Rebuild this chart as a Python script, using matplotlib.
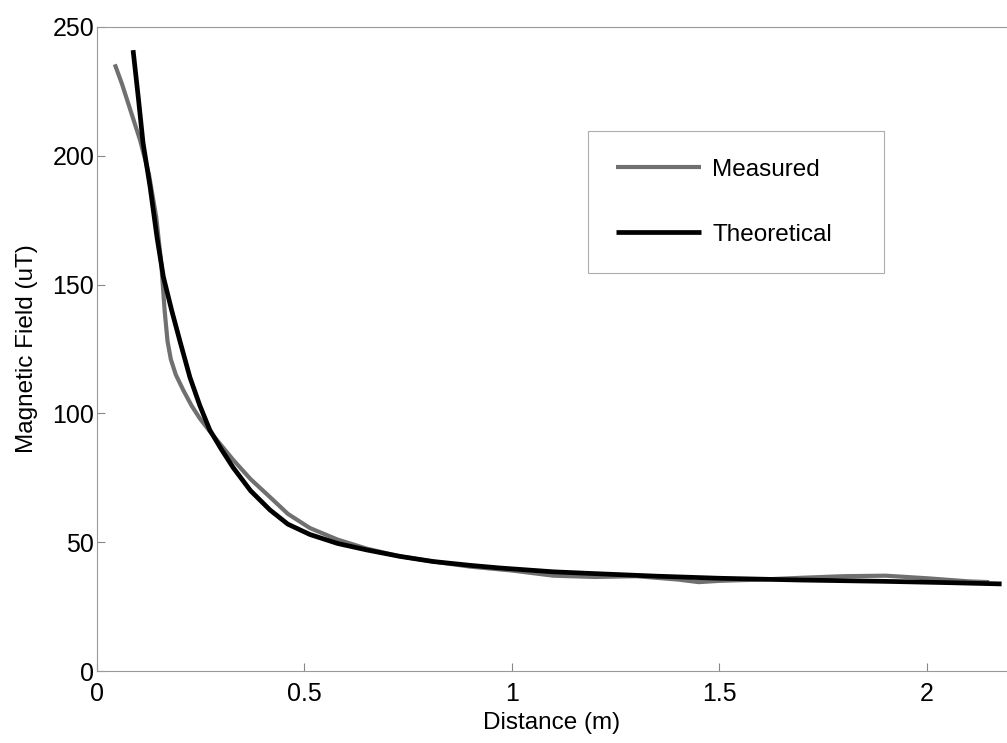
import matplotlib
matplotlib.use("Agg")
import matplotlib.pyplot as plt

plt.rcParams['font.family'] = ['Liberation Sans', 'DejaVu Sans']

# Measured data
meas_x = [0.043, 0.06, 0.08, 0.104, 0.125, 0.143, 0.155, 0.163, 0.17, 0.178, 0.19,
          0.208, 0.228, 0.248, 0.272, 0.30, 0.328, 0.37, 0.417, 0.46, 0.513, 0.58,
          0.65, 0.73, 0.81, 0.90, 1.0, 1.1, 1.2, 1.3, 1.4, 1.45, 1.5, 1.6, 1.7,
          1.8, 1.9, 2.0, 2.1, 2.15]
meas_y = [235.5, 228, 218, 206, 193, 176, 158, 140, 128, 121, 115,
          109, 103, 98, 93, 87.5, 82, 74.5, 67.5, 61, 55.5, 51,
          47.5, 44.5, 42.5, 40.5, 39, 37, 36.5, 36.8, 35.5, 34.5, 35, 35.5, 36.2,
          36.8, 37, 36, 34.8, 34.5]

# Theoretical curve
theo_x = [0.087, 0.10, 0.111, 0.128, 0.145, 0.16, 0.18, 0.20, 0.224, 0.248, 0.272,
          0.30, 0.328, 0.37, 0.417, 0.46, 0.513, 0.58, 0.65, 0.73, 0.81, 0.90,
          0.97, 1.1, 1.2, 1.35, 1.5, 1.7, 1.9, 2.05, 2.18]
theo_y = [241, 222, 205, 188, 168, 153, 140, 128, 114, 103, 93.5,
          86, 79, 70, 62.5, 57, 53, 49.5, 47, 44.5, 42.5, 41,
          40, 38.5, 37.8, 36.8, 36, 35.3, 34.8, 34.3, 33.8]

x_ticks = [0, 0.5, 1, 1.5, 2]
x_ticklabels = ['0', '0.5', '1', '1.5', '2']
y_ticks = [0, 50, 100, 150, 200, 250]

fig = plt.figure(figsize=(10.07, 7.43), dpi=100)
ax = fig.add_axes([0.0963, 0.0969, 0.9037, 0.8668])

ax.plot(meas_x, meas_y, color='#707070', lw=3.0, label='Measured', solid_capstyle='butt')
ax.plot(theo_x, theo_y, color='#000000', lw=3.4, label='Theoretical', solid_capstyle='butt')

ax.set_xlim(0, 2.193)
ax.set_ylim(0, 250)
ax.set_xticks(x_ticks)
ax.set_xticklabels(x_ticklabels)
ax.set_yticks(y_ticks)

ax.tick_params(direction='in', length=6, width=0.8, color='#888888', labelsize=18)
ax.tick_params(axis='y', pad=2)
ax.tick_params(axis='x', pad=8)
for s in ['left', 'bottom', 'top']:
    ax.spines[s].set_color('#999999')
    ax.spines[s].set_linewidth(0.8)
ax.spines['right'].set_visible(False)

ax.set_xlabel('Distance (m)', fontsize=17.5, labelpad=4)
ax.set_ylabel('Magnetic Field (uT)', fontsize=17.5, labelpad=10)

leg = ax.legend(loc='upper left', bbox_to_anchor=(0.584, 0.6312, 0.294, 0.1925),
                bbox_transform=fig.transFigure, mode='expand', borderaxespad=0,
                fontsize=17.5, handlelength=3.5, handletextpad=0.45,
                labelspacing=1.75, borderpad=1.15, fancybox=False, frameon=True)
leg.get_frame().set_edgecolor('#999999')
leg.get_frame().set_linewidth(0.8)

fig.savefig('out.png', dpi=100)
